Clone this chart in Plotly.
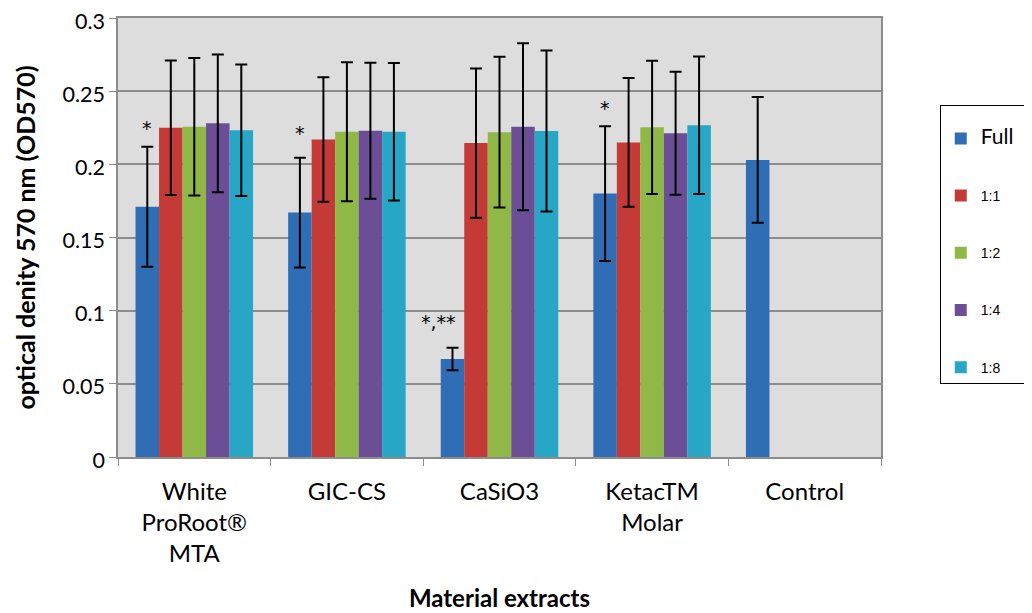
import plotly.graph_objects as go

categories = ["White<br>ProRoot®<br>MTA", "GIC-CS", "CaSiO3", "KetacTM<br>Molar", "Control"]
series_names = ["Full", "1:1", "1:2", "1:4", "1:8"]
y_tickvals = [0, 0.05, 0.1, 0.15, 0.2, 0.25, 0.3]
y_ticktext = ["0", "0.05", "0.1", "0.15", "0.2", "0.25", "0.3"]

full_vals = [0.171, 0.167, 0.067, 0.180, 0.203]
full_err = [0.041, 0.0375, 0.0077, 0.046, 0.043]
r11_vals = [0.225, 0.217, 0.2145, 0.215, None]
r11_err = [0.046, 0.0425, 0.051, 0.044, None]
r12_vals = [0.2257, 0.2223, 0.222, 0.2253, None]
r12_err = [0.047, 0.0475, 0.0515, 0.0455, None]
r14_vals = [0.228, 0.223, 0.2257, 0.2212, None]
r14_err = [0.047, 0.0465, 0.057, 0.042, None]
r18_vals = [0.2233, 0.2223, 0.2228, 0.2267, None]
r18_err = [0.045, 0.047, 0.055, 0.047, None]

values = [full_vals, r11_vals, r12_vals, r14_vals, r18_vals]
errors = [full_err, r11_err, r12_err, r14_err, r18_err]
colors = ["#2F6DB5", "#C43A37", "#8FB847", "#6B4E96", "#27A6C6"]

# significance markers
sig_idx = [0, 1, 2, 3]
sig_y = [0.2248, 0.2212, 0.0925, 0.2383]
sig_text = ["*", "*", "*,**", "*"]

fig = go.Figure()
legend_labels = ['<span style="font-family:Lato;font-size:21px">Full&nbsp;&nbsp;</span>', "1:1", "1:2", "1:4", "1:8"]
for i, name in enumerate(series_names):
    fig.add_trace(go.Bar(
        x=categories, y=values[i], name=legend_labels[i],
        legendgroup=name,
        marker=dict(color=colors[i], line=dict(width=0)),
        error_y=dict(type="data", array=errors[i], visible=True,
                     color="black", thickness=2, width=6),
    ))

bargap = 0.23
bw = (1 - bargap) / 5
for k, idx in enumerate(sig_idx):
    fig.add_annotation(
        x=idx - 2 * bw + (-0.09 if sig_text[k] != "*" else 0), y=sig_y[k],
        text=sig_text[k], showarrow=False,
        font=dict(family="DejaVu Sans", size=19, color="black"),
        xref="x", yref="y",
    )

fig.update_layout(
    width=1032, height=613,
    margin=dict(l=110, r=159, t=10, b=164, autoexpand=False),
    paper_bgcolor="white",
    plot_bgcolor="#DDDDDD",
    barmode="group",
    bargap=bargap, bargroupgap=0,
    font=dict(family="Lato", color="black"),
    legend=dict(
        x=1.077, y=0.802, xanchor="left", yanchor="top",
        bordercolor="black", borderwidth=1, bgcolor="white",
        font=dict(family="Liberation Sans", size=14, color="black"),
        tracegroupgap=36, traceorder="grouped",
        itemwidth=30,
        title=dict(text=" ", font=dict(size=13)),
    ),
    showlegend=True,
)

fig.update_yaxes(
    range=[0, 0.3], tickvals=y_tickvals, ticktext=y_ticktext,
    ticklabeloverflow="allow", ticklabelshift=3,
    showgrid=True, gridcolor="#8C8C8C", gridwidth=1.5,
    showline=True, linecolor="#8C8C8C", linewidth=1.5, mirror=True,
    ticks="outside", ticklen=7, tickcolor="#8C8C8C",
    tickfont=dict(family="Lato", size=21.5, color="black"),
    zeroline=False, automargin=False,
    title=dict(text="<b>optical denity 570 nm (OD570)</b>",
               font=dict(family="Lato", size=25, color="black"), standoff=20),
)
fig.update_xaxes(
    showline=True, linecolor="#8C8C8C", linewidth=1.5, mirror=True,
    ticks="outside", ticklen=7, tickcolor="#8C8C8C", tickson="boundaries",
    tickfont=dict(family="Lato", size=24, color="black"),
    ticklabelstandoff=12, ticklabeloverflow="allow",
    automargin=False,
    title=dict(text="<b>Material extracts</b>",
               font=dict(family="Lato", size=24, color="black"), standoff=24),
)

fig.write_html("out.html")
